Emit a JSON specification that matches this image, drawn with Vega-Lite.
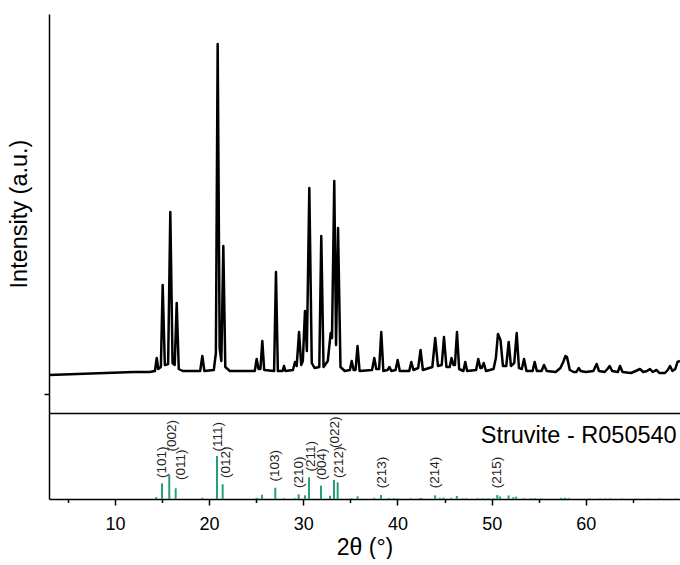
{
  "$schema": "https://vega.github.io/schema/vega-lite/v6.json",
  "padding": {"left": 7, "top": 14, "right": 0, "bottom": 0},
  "spacing": 0,
  "bounds": "flush",
  "config": {
    "view": {"stroke": null},
    "axis": {"domainColor": "black", "domainWidth": 1.5, "tickColor": "black", "tickWidth": 1.5, "labelColor": "black", "titleColor": "black", "labelFont": "Liberation Sans", "titleFont": "Liberation Sans", "grid": false, "titleFontWeight": "normal"},
    "text": {"font": "Liberation Sans"}
  },
  "datasets": {
    "xrd": [
      {"t":3.0,"i":38},{"t":6.0,"i":39},{"t":9.0,"i":40},{"t":12.0,"i":41},{"t":13.7,"i":41},{"t":14.25,"i":42},
      {"t":14.44,"i":55},{"t":14.6,"i":44},{"t":14.88,"i":46},{"t":15.07,"i":128},{"t":15.3,"i":48},{"t":15.65,"i":49},{"t":15.88,"i":201},{"t":16.12,"i":50},{"t":16.35,"i":48},{"t":16.56,"i":110},{"t":16.78,"i":44},{"t":17.2,"i":42},
      {"t":19.05,"i":42},{"t":19.28,"i":57},{"t":19.5,"i":42},{"t":20.5,"i":43},{"t":20.72,"i":60},{"t":20.91,"i":369},{"t":21.12,"i":65},{"t":21.3,"i":52},{"t":21.51,"i":167},{"t":21.72,"i":46},{"t":22.2,"i":42},
      {"t":24.85,"i":42},{"t":25.05,"i":54},{"t":25.25,"i":44},{"t":25.45,"i":44},{"t":25.65,"i":72},{"t":25.85,"i":43},{"t":26.9,"i":42},{"t":27.1,"i":141},{"t":27.3,"i":42},{"t":27.8,"i":42},{"t":27.95,"i":47},{"t":28.1,"i":42},
      {"t":28.9,"i":43},{"t":29.12,"i":51},{"t":29.3,"i":47},{"t":29.55,"i":81},{"t":29.78,"i":48},{"t":29.95,"i":52},{"t":30.18,"i":102},{"t":30.38,"i":62},{"t":30.64,"i":225},{"t":30.9,"i":50},{"t":31.2,"i":45},{"t":31.7,"i":46},{"t":31.91,"i":177},{"t":32.15,"i":46},{"t":32.6,"i":52},{"t":32.91,"i":80},{"t":33.05,"i":75},{"t":33.29,"i":232},{"t":33.48,"i":68},{"t":33.69,"i":185},{"t":33.95,"i":46},{"t":34.4,"i":42},
      {"t":34.95,"i":43},{"t":35.14,"i":52},{"t":35.35,"i":43},{"t":35.55,"i":43},{"t":35.76,"i":67},{"t":35.98,"i":42},{"t":37.3,"i":43},{"t":37.54,"i":55},{"t":37.75,"i":44},{"t":38.05,"i":44},{"t":38.28,"i":81},{"t":38.5,"i":42},{"t":38.95,"i":43},{"t":39.15,"i":46},{"t":39.35,"i":42},{"t":39.8,"i":43},{"t":40.02,"i":53},{"t":40.25,"i":42},
      {"t":41.25,"i":42},{"t":41.47,"i":51},{"t":41.7,"i":43},{"t":42.2,"i":45},{"t":42.45,"i":63},{"t":42.7,"i":43},{"t":43.7,"i":46},{"t":44.01,"i":75},{"t":44.3,"i":47},{"t":44.7,"i":48},{"t":44.94,"i":76},{"t":45.2,"i":46},{"t":45.55,"i":46},{"t":45.74,"i":55},{"t":45.95,"i":48},{"t":46.1,"i":48},{"t":46.32,"i":81},{"t":46.55,"i":44},{"t":47.0,"i":42},{"t":47.2,"i":51},{"t":47.4,"i":42},
      {"t":48.35,"i":43},{"t":48.58,"i":54},{"t":48.8,"i":45},{"t":48.95,"i":45},{"t":49.16,"i":50},{"t":49.4,"i":42},{"t":50.2,"i":44},{"t":50.45,"i":55},{"t":50.67,"i":79},{"t":50.94,"i":73},{"t":51.2,"i":47},{"t":51.55,"i":47},{"t":51.81,"i":71},{"t":52.05,"i":47},{"t":52.4,"i":50},{"t":52.66,"i":80},{"t":52.9,"i":45},{"t":53.2,"i":44},{"t":53.44,"i":54},{"t":53.7,"i":42},
      {"t":54.35,"i":42},{"t":54.57,"i":51},{"t":54.8,"i":42},{"t":55.3,"i":42},{"t":55.56,"i":48},{"t":55.85,"i":42},{"t":56.8,"i":41},{"t":57.3,"i":45},{"t":57.6,"i":51},{"t":57.84,"i":57},{"t":58.0,"i":56},{"t":58.3,"i":43},{"t":58.7,"i":41},{"t":59.0,"i":41},{"t":59.24,"i":45},{"t":59.45,"i":42},
      {"t":60.0,"i":41},{"t":60.8,"i":42},{"t":61.15,"i":49},{"t":61.4,"i":42},{"t":62.0,"i":41},{"t":62.3,"i":44},{"t":62.53,"i":47},{"t":62.8,"i":42},{"t":63.4,"i":41},{"t":63.63,"i":47},{"t":63.9,"i":41},{"t":64.8,"i":40},{"t":65.3,"i":42},{"t":65.75,"i":44},{"t":66.1,"i":41},{"t":66.5,"i":42},{"t":66.81,"i":44},{"t":67.1,"i":41},{"t":67.3,"i":42},{"t":67.52,"i":43},{"t":67.8,"i":40},{"t":68.4,"i":40},{"t":68.7,"i":43},{"t":68.94,"i":47},{"t":69.2,"i":42},{"t":69.5,"i":44},{"t":69.73,"i":51},{"t":70.0,"i":52}
    ],
    "sticks": [
      {"t":14.39,"h":2},{"t":15.0,"h":15.7},{"t":15.77,"h":24.3},{"t":16.45,"h":10.7},{"t":19.28,"h":1.3},{"t":20.84,"h":43},{"t":21.44,"h":14.7},
      {"t":25.05,"h":1.3},{"t":25.62,"h":4.3},{"t":27.03,"h":11.3},{"t":27.95,"h":0.8},{"t":29.12,"h":0.8},{"t":29.51,"h":4.7},{"t":30.18,"h":3.7},{"t":30.61,"h":21.7},{"t":31.88,"h":13.3},{"t":32.84,"h":3.3},{"t":33.26,"h":19},{"t":33.65,"h":16.7},
      {"t":35.14,"h":0.8},{"t":35.76,"h":2.7},{"t":37.54,"h":1.2},{"t":38.25,"h":4},{"t":39.1,"h":1},{"t":39.6,"h":0.7},{"t":40.0,"h":0.6},{"t":41.4,"h":0.7},{"t":42.4,"h":1},{"t":42.6,"h":0.7},
      {"t":44.0,"h":3.7},{"t":44.5,"h":1.2},{"t":44.9,"h":1.5},{"t":45.7,"h":1.2},{"t":46.3,"h":3},{"t":46.9,"h":0.7},{"t":47.3,"h":0.7},{"t":48.5,"h":0.8},{"t":49.1,"h":0.8},{"t":49.6,"h":0.6},{"t":50.2,"h":0.8},
      {"t":50.6,"h":4},{"t":50.9,"h":2.5},{"t":51.8,"h":3.5},{"t":52.3,"h":1.8},{"t":52.6,"h":2.3},{"t":53.4,"h":0.9},{"t":54.2,"h":0.6},{"t":54.6,"h":0.8},{"t":55.3,"h":0.6},
      {"t":57.4,"h":1.2},{"t":57.8,"h":1.3},{"t":58.2,"h":1},{"t":60.4,"h":0.6},{"t":61.5,"h":0.5},{"t":62.1,"h":0.6},{"t":62.6,"h":0.6},{"t":63.8,"h":0.5},{"t":65.3,"h":0.5},{"t":66.6,"h":0.5},{"t":67.8,"h":0.6},{"t":69.5,"h":0.5}
    ],
    "hkl": [
      {"lx":14.97,"ly":21,"lab":"(101)"},{"lx":16.03,"ly":47.5,"lab":"(002)"},{"lx":17.0,"ly":19,"lab":"(011)"},
      {"lx":20.91,"ly":47.5,"lab":"(111)"},{"lx":21.76,"ly":21,"lab":"(012)"},{"lx":27.03,"ly":17.5,"lab":"(103)"},
      {"lx":29.51,"ly":11,"lab":"(210)"},{"lx":30.79,"ly":27.5,"lab":"(211)"},{"lx":31.96,"ly":19,"lab":"(004)"},
      {"lx":33.37,"ly":51,"lab":"(022)"},{"lx":33.82,"ly":21,"lab":"(212)"},{"lx":38.33,"ly":10.7,"lab":"(213)"},
      {"lx":43.99,"ly":10.7,"lab":"(214)"},{"lx":50.6,"ly":10.7,"lab":"(215)"}
    ],
    "ref": [{"t":69.65,"h":63,"name":"Struvite - R050540"}]
  },
  "vconcat": [
    {
      "width": 631,
      "height": 399,
      "data": {"name": "xrd"},
      "mark": {"type": "line", "color": "black", "strokeWidth": 2.5, "strokeJoin": "round"},
      "encoding": {
        "x": {"field": "t", "type": "quantitative", "scale": {"domain": [3, 70], "nice": false, "zero": false}, "axis": {"labels": false, "ticks": false, "title": null}},
        "y": {"field": "i", "type": "quantitative", "scale": {"domain": [0, 399], "nice": false}, "axis": {"labels": false, "values": [19], "tickSize": 5, "title": "Intensity (a.u.)", "titleFontSize": 23.5, "titlePadding": 12}}
      }
    },
    {
      "width": 631,
      "height": 86,
      "layer": [
        {
          "data": {"name": "sticks"},
          "mark": {"type": "rule", "color": "#26a07a", "strokeWidth": 2},
          "encoding": {
            "x": {"field": "t", "type": "quantitative", "scale": {"domain": [3, 70], "nice": false, "zero": false},
                  "axis": {"values": [5,10,15,20,25,30,35,40,45,50,55,60,65], "labelExpr": "datum.value % 10 === 0 ? datum.label : ''",
                           "tickSize": {"condition": {"test": "datum.value % 10 === 0", "value": 6}, "value": 3.5},
                           "labelFontSize": 18, "labelPadding": 10, "title": "2θ (°)", "titleFontSize": 23, "titlePadding": 3}},
            "y": {"field": "h", "type": "quantitative", "scale": {"domain": [0, 86], "nice": false}, "axis": {"labels": false, "ticks": false, "title": null}},
            "y2": {"datum": 0}
          }
        },
        {
          "data": {"name": "hkl"},
          "mark": {"type": "text", "angle": 270, "align": "left", "baseline": "middle", "fontSize": 13.5, "color": "#222222"},
          "encoding": {
            "x": {"field": "lx", "type": "quantitative"},
            "y": {"field": "ly", "type": "quantitative"},
            "text": {"field": "lab"}
          }
        },
        {
          "data": {"name": "ref"},
          "mark": {"type": "text", "align": "right", "baseline": "middle", "fontSize": 23.5, "color": "black"},
          "encoding": {
            "x": {"field": "t", "type": "quantitative"},
            "y": {"field": "h", "type": "quantitative"},
            "text": {"field": "name"}
          }
        }
      ]
    }
  ]
}
